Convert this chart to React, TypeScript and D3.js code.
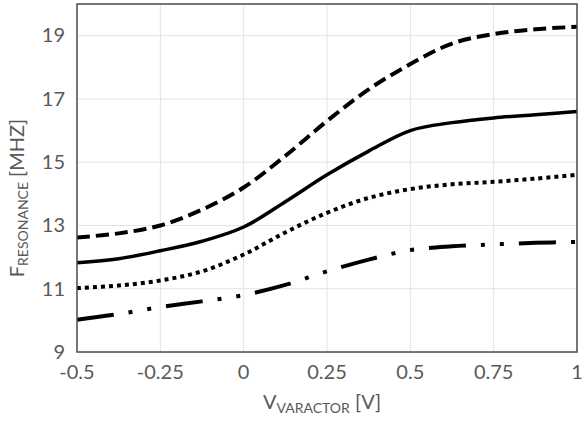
import React from "react";
import * as d3 from "d3";

const xValues = [-0.5, -0.375, -0.25, -0.125, 0, 0.125, 0.25, 0.375, 0.5, 0.625, 0.75, 0.875, 1];
const dashedSeries = [12.62, 12.75, 13.0, 13.5, 14.2, 15.2, 16.3, 17.3, 18.1, 18.75, 19.05, 19.2, 19.28];
const solidSeries = [11.82, 11.95, 12.2, 12.5, 12.95, 13.75, 14.6, 15.35, 16.0, 16.25, 16.4, 16.5, 16.6];
const dottedSeries = [11.02, 11.1, 11.26, 11.55, 12.08, 12.78, 13.4, 13.87, 14.15, 14.3, 14.38, 14.48, 14.6];
const dashDotSeries = [10.02, 10.2, 10.42, 10.6, 10.8, 11.12, 11.55, 11.92, 12.22, 12.34, 12.4, 12.45, 12.48];
const xTicks = [-0.5, -0.25, 0, 0.25, 0.5, 0.75, 1];
const yTicks = [9, 11, 13, 15, 17, 19];

const W = 584;
const H = 422;
const left = 77;
const right = 577;
const top = 4;
const bottom = 352;
const font = "Lato, 'Open Sans', sans-serif";
const gray = "#595959";

export default function App() {
  const x = d3.scaleLinear().domain([-0.5, 1]).range([left, right]);
  const y = d3.scaleLinear().domain([9, 20]).range([bottom, top]);
  const line = d3
    .line<number>()
    .x((_, i) => x(xValues[i]))
    .y((d) => y(d))
    .curve(d3.curveCatmullRom.alpha(0.5));

  const series = [
    { data: dashedSeries, dash: "13,6", w: 4 },
    { data: solidSeries, dash: undefined, w: 3.5 },
    { data: dottedSeries, dash: "4,4", w: 4 },
    { data: dashDotSeries, dash: "37,15,4,15,4,15", w: 4 },
  ];

  return (
    <svg width={W} height={H} style={{ position: "absolute", left: 0, top: 0, background: "#fff" }}>
      <rect x={0} y={0} width={W} height={H} fill="#fff" />
      {xTicks.slice(1, -1).map((t) => (
        <line key={"gx" + t} x1={x(t)} x2={x(t)} y1={top} y2={bottom} stroke="#e3e3e3" strokeWidth={1} />
      ))}
      {yTicks.slice(1).map((t) => (
        <line key={"gy" + t} x1={left} x2={right} y1={y(t)} y2={y(t)} stroke="#e3e3e3" strokeWidth={1} />
      ))}
      {series.map((s, i) => (
        <path
          key={i}
          d={line(s.data) || ""}
          fill="none"
          stroke="#000"
          strokeWidth={s.w}
          strokeDasharray={s.dash}
          strokeLinecap="butt"
        />
      ))}
      <rect x={left} y={top} width={right - left} height={bottom - top} fill="none" stroke="#4a4a4a" strokeWidth={1.5} />
      {yTicks.map((t) => (
        <text key={"ty" + t} x={65} y={y(t)} dy="0.34em" textAnchor="end" fontFamily={font} fontSize={20} fill={gray}>
          {t}
        </text>
      ))}
      {xTicks.map((t) => (
        <text key={"tx" + t} x={x(t)} y={379} textAnchor="middle" fontFamily={font} fontSize={20} fill={gray}>
          {t}
        </text>
      ))}
      <text x={322} y={409} textAnchor="middle" fontFamily={font} fontSize={20} fill={gray}>
        V
        <tspan fontSize={14} dy={4}>VARACTOR</tspan>
        <tspan dy={-4}> [V]</tspan>
      </text>
      <text
        transform={`translate(24,198) rotate(-90)`}
        textAnchor="middle"
        fontFamily={font}
        fontSize={20}
        fill={gray}
      >
        F
        <tspan fontSize={14} dy={4}>RESONANCE</tspan>
        <tspan dy={-4}> [MHZ]</tspan>
      </text>
    </svg>
  );
}
